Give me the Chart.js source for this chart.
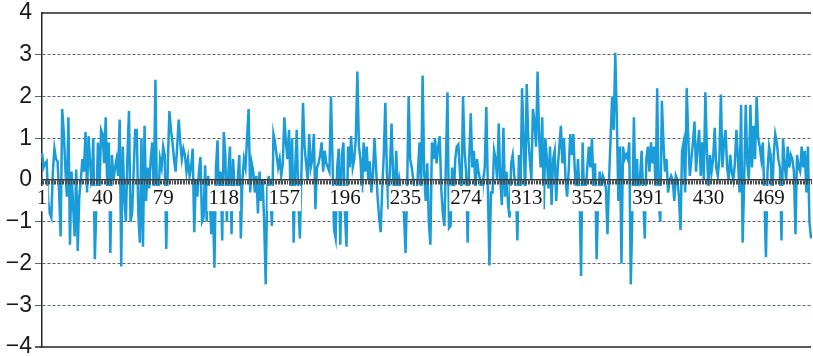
<!DOCTYPE html>
<html>
<head>
<meta charset="utf-8">
<script src="https://cdn.jsdelivr.net/npm/chart.js@4.4.1/dist/chart.umd.min.js"></script>
<style>
  html, body { margin: 0; padding: 0; background: #ffffff; overflow: hidden; }
  #wrap { width: 813px; height: 356px; }
</style>
</head>
<body>
<div id="wrap"><canvas id="c" width="813" height="356"></canvas></div>
<script>
// Observed series, one value per step (1..496)
const seriesValues = [
  0.65, 0.3, 0.4, 0.45, -0.5, -0.8, -0.9, 0.2, 0.75, 0.5,
  0.45, -0.3, -1.35, 1.7, 1.15, 0.3, -0.4, 1.5, -1.55, 0.2,
  -0.6, -1.35, 0.25, -1.7, -0.4, 0.0, 0.5, 0.2, 1.15, -0.3,
  1.05, 0.4, -0.2, 1.0, -1.9, -0.6, 0.9, -0.3, 1.2, 1.1,
  0.4, 1.5, -0.2, 0.9, -1.75, 0.6, 0.0, 0.3, 0.5, 0.1,
  1.45, -2.07, 0.8, -0.4, -1.0, 0.6, 1.65, -1.0, -0.8, 0.2,
  1.2, 1.2, -0.8, -1.5, 1.0, -1.6, 1.3, -0.5, 0.3, -0.2,
  0.5, 0.9, -0.3, 2.4, -0.5, -0.3, 0.5, 0.3, 0.8, 0.6,
  -1.65, 0.4, 1.65, 1.2, 0.9, 0.5, 0.2, 0.8, 1.45, 0.9,
  0.5, 0.75, 0.6, 0.2, 0.5, 0.1, 0.3, 0.75, -1.25, 0.0,
  -0.4, 0.2, 0.55, -1.0, -0.9, 0.35, -1.0, 0.1, -0.5, -1.3,
  -0.6, -2.1, 0.3, 0.95, -0.6, 0.2, -1.45, 1.15, 0.6, -1.0,
  0.2, 0.8, -1.3, 0.5, -0.2, -0.6, 0.0, 0.6, -1.4, 0.0,
  0.5, 0.3, 1.0, 1.7, -0.3, 0.4, 0.2, -0.3, 0.1, -0.8,
  0.2, -0.5, 0.0, -1.0, -2.5, -0.2, 0.1, -0.4, -1.1, 1.1,
  0.9, 0.6, 0.3, 0.5, 0.1, 0.4, 1.5, 0.9, 0.5, 1.2,
  -0.3, 1.0, -1.5, 0.3, 1.2, -0.5, -1.4, 0.2, 1.85, 0.8,
  0.4, 0.0, 1.1, 0.3, 0.5, 1.1, -0.7, 0.3, 0.4, 0.6,
  0.9, 0.2, 0.7, 0.4, 0.3, 0.2, 2.0, 0.5, -1.2, -1.4,
  0.3, 0.75, -1.55, 0.6, 0.9, -0.8, -1.6, 0.8, 0.3, 1.05,
  0.3, 0.5, 1.0, 2.6, 0.8, 0.5, -0.3, 0.9, 0.2, 0.8,
  0.0, 0.45, -0.3, 0.1, 1.0, 0.3, -0.4, -0.9, -1.25, -0.2,
  0.6, 1.85, 0.2, -0.7, 0.3, 1.35, 0.1, -0.5, 0.7, -0.3,
  0.0, -0.3, -0.6, -0.8, -1.75, -0.3, 2.0, 0.5, 0.3, 0.0,
  -0.3, -0.6, 0.2, 0.9, -0.3, 2.5, 0.2, -0.5, 0.4, -1.0,
  -1.55, 0.9, 0.5, 1.0, 0.4, 0.8, 1.05, -0.2, -0.8, -1.1,
  0.4, 2.1, -1.15, -1.1, 0.3, -0.5, 0.5, 0.8, 0.85, 0.2,
  -0.4, 2.0, 0.7, 0.2, -1.5, 0.5, 1.6, 0.3, 0.7, -0.2,
  0.5, 0.2, 0.0, -0.5, 0.0, 0.3, 1.75, -0.2, -2.05, -0.3,
  -0.3, 0.7, 0.5, 0.0, 1.35, 0.0, -0.6, 1.25, -0.4, 0.2,
  -0.6, -0.9, 0.4, 0.6, 0.1, -0.2, -1.45, 0.6, -0.4, 2.2,
  1.0, -0.4, 2.3, 1.0, 0.5, 0.0, 1.7, 1.4, 0.8, 2.6,
  1.0, 0.3, 1.5, -0.7, 1.0, 0.5, -0.2, 0.8, -0.6, 0.5,
  0.7, -0.5, 0.3, 0.8, 1.3, 0.4, 1.0, 0.0, -0.4, 0.2,
  1.1, 0.6, 1.1, 0.2, -0.3, 0.5, -0.3, -2.3, 0.9, -0.6,
  -0.2, 0.3, 0.8, 0.3, 1.0, -0.2, 0.4, -1.9, -0.4, 0.2,
  -0.3, 0.1, 0.0, -0.2, -1.3, 0.0, 1.0, 2.0, 1.2, 3.05,
  1.5, -0.5, 0.8, -2.0, 0.8, 0.5, 0.6, 0.5, 0.9, -2.5,
  -0.8, 1.5, -0.4, 0.5, -0.6, 0.1, 0.7, -0.4, -1.4, 0.5,
  0.8, 0.2, 0.9, 0.4, 0.8, -0.2, 2.2, -0.6, -1.0, 1.9,
  0.9, 0.2, 0.5, -0.3, 0.0, 0.1, 0.0, -0.5, 0.1, 0.0,
  -0.4, -1.2, 0.7, 0.9, -0.3, 2.2, 1.0, 0.1, 0.5, 0.9,
  1.4, 0.2, 0.8, 1.2, 0.1, 0.9, 0.0, 2.1, 0.7, -0.2,
  0.6, 0.2, 0.5, 1.25, 0.3, 0.1, 0.5, 2.05, 0.3, 0.9,
  1.2, 0.3, 0.0, 0.6, 0.2, 0.0, 0.4, 1.2, 0.5, -0.3,
  1.8, -1.5, 0.0, 1.8, 0.4, 0.0, 1.8, 0.3, 1.3, 0.5,
  2.0, 1.0, 0.8, 0.5, 0.9, -0.4, -1.85, 0.2, 0.8, 0.6,
  -0.5, 0.6, 1.1, 0.9, 0.5, 0.3, -1.45, 1.0, 0.4, 0.0,
  0.8, 0.3, 0.6, 0.5, 0.2, -1.3, 0.6, 0.3, 0.2, 0.8,
  0.3, 0.7, -0.3, 0.8, -1.0, -1.4
];

// Category labels: step numbers 1..N
const categories = seriesValues.map((_, i) => String(i + 1));

// Every 39th step carries a printed label (1, 40, 79, ... 469)
const labelStep = 39;

// Value axis range and spacing
const yMin = -4;
const yMax = 4;
const yStep = 1;

const lineColor = '#1a9cd8';
const inkColor = '#262626';
const gridColor = '#56657a';

// Solid frame lines along the top and bottom of the plot
const framePlugin = {
  id: 'frameLines',
  beforeDatasetsDraw(chart) {
    const { ctx, chartArea: a } = chart;
    ctx.save();
    ctx.strokeStyle = inkColor;
    ctx.lineWidth = 1.5;
    ctx.beginPath();
    ctx.moveTo(a.left, a.top);
    ctx.lineTo(a.right, a.top);
    ctx.moveTo(a.left - 7, a.bottom);
    ctx.lineTo(a.right, a.bottom);
    ctx.stroke();
    ctx.restore();
  }
};

new Chart(document.getElementById('c'), {
  type: 'line',
  data: {
    labels: categories,
    datasets: [{
      data: seriesValues,
      borderColor: lineColor,
      borderWidth: 2.5,
      pointRadius: 0,
      tension: 0,
      fill: false
    }]
  },
  options: {
    responsive: false,
    animation: false,
    devicePixelRatio: 1,
    layout: { padding: { top: 0, right: 0, bottom: 0, left: 0 } },
    plugins: {
      legend: { display: false },
      tooltip: { enabled: false }
    },
    scales: {
      x: {
        type: 'category',
        position: { y: 0 },
        offset: false,
        border: { display: true, color: '#3a3a3a', width: 1.5, z: 1 },
        grid: {
          drawOnChartArea: false,
          drawTicks: true,
          tickLength: 4,
          color: '#4a4a4a',
          lineWidth: 1,
          z: 1
        },
        ticks: {
          z: 2,
          autoSkip: false,
          maxRotation: 0,
          minRotation: 0,
          padding: 2,
          color: '#141414',
          font: { family: '"Liberation Serif", "DejaVu Serif", serif', size: 21 },
          callback: (v, i) => (i % labelStep === 0 ? categories[i] : ''),
          showLabelBackdrop: (c) => c.index % labelStep === 0,
          backdropColor: '#ffffff',
          backdropPadding: { x: 1, y: 0 }
        }
      },
      y: {
        min: yMin,
        max: yMax,
        border: { display: true, color: inkColor, width: 1.5, dash: [3, 2] },
        grid: {
          drawOnChartArea: true,
          drawTicks: true,
          tickLength: 7,
          lineWidth: 1,
          color: (c) => (c.tick && (c.tick.value === 0 || Math.abs(c.tick.value) === yMax) ? 'rgba(0,0,0,0)' : gridColor)
        },
        ticks: {
          stepSize: yStep,
          padding: 3,
          color: '#1a1a1a',
          font: { family: '"Liberation Sans", Arial, sans-serif', size: 23 },
          callback: (v) => (v < 0 ? '\u2212' + Math.abs(v) : String(v))
        },
        afterFit: (scale) => {
          scale.width = 42;
          scale.paddingTop = 13;
          scale.paddingBottom = 9;
        }
      }
    }
  },
  plugins: [framePlugin]
});
</script>
</body>
</html>
